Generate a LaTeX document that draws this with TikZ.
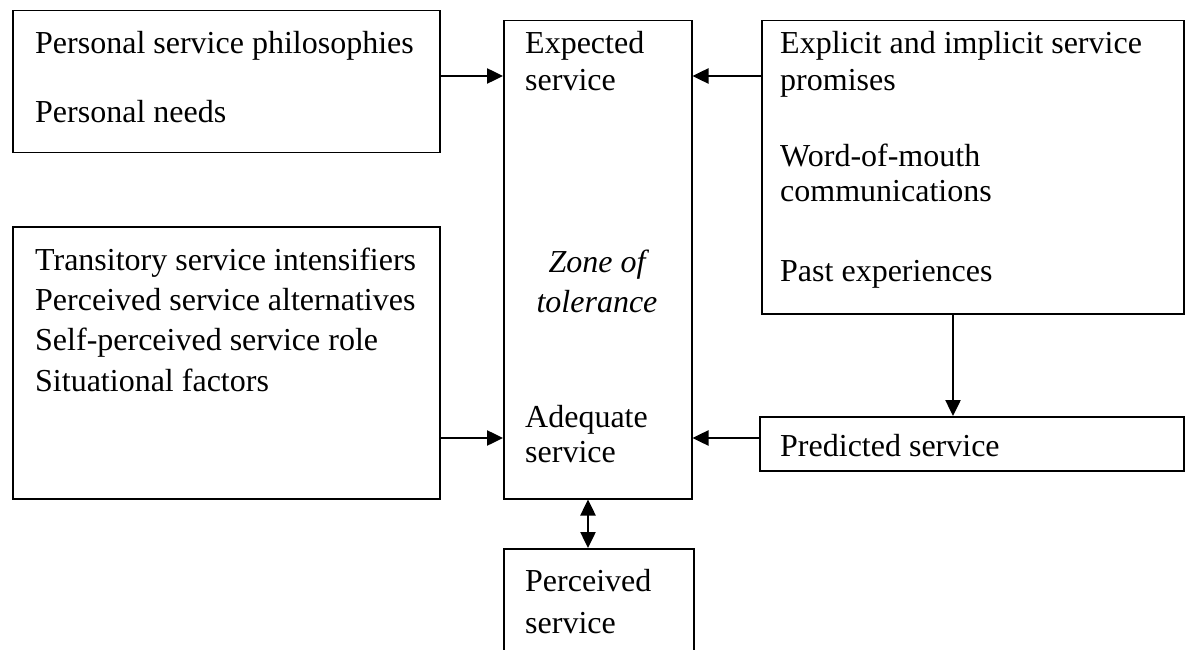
\documentclass[tikz,border=0pt]{standalone}
\usepackage{fontspec}
\setmainfont{Liberation Serif}
\usetikzlibrary{arrows.meta}
\begin{document}
\begin{tikzpicture}[x=1pt,y=-1pt,
  boxst/.style={draw=black, line width=1.5pt, rectangle, anchor=north west, inner sep=0pt},
  txt/.style={anchor=base west, inner sep=0pt, font=\fontsize{32}{38}\selectfont},
  itxt/.style={anchor=base, inner sep=0pt, font=\fontsize{32}{38}\selectfont\itshape},
  arr/.style={line width=2.5pt, -{Triangle[length=16pt,width=15pt]}},
  darr/.style={line width=2.5pt, {Triangle[length=16pt,width=15pt]}-{Triangle[length=16pt,width=15pt]}}]
\useasboundingbox (0,0) rectangle (1192,650);
\clip (0,0) rectangle (1192,650);
% boxes
\node[boxst, minimum width=427pt, minimum height=142pt] (A) at (12,10) {};
\node[boxst, minimum width=188pt, minimum height=478pt] (C) at (503,20) {};
\node[boxst, minimum width=422pt, minimum height=293pt] (R) at (761,20) {};
\node[boxst, minimum width=427pt, minimum height=272pt] (B) at (12,226) {};
\node[boxst, minimum width=424pt, minimum height=54pt] (P) at (759,416) {};
\node[boxst, minimum width=190pt, minimum height=140pt] (V) at (503,548) {};
% texts
\node[txt] (a1) at (35,54) {Personal service philosophies};
\node[txt] (a2) at (35,123) {Personal needs};
\node[txt] (c1) at (525,54) {Expected};
\node[txt] (c2) at (525,91) {service};
\node[itxt] (z1) at (597,272) {Zone of};
\node[itxt] (z2) at (597,312) {tolerance};
\node[txt] (c3) at (525,427) {Adequate};
\node[txt] (c4) at (525,462) {service};
\node[txt] (r1) at (780,54) {Explicit and implicit service};
\node[txt] (r2) at (780,91) {promises};
\node[txt] (r3) at (780,167) {Word-of-mouth};
\node[txt] (r4) at (780,201) {communications};
\node[txt] (r5) at (780,281) {Past experiences};
\node[txt] (b1) at (35,270) {Transitory service intensifiers};
\node[txt] (b2) at (35,310) {Perceived service alternatives};
\node[txt] (b3) at (35,350) {Self-perceived service role};
\node[txt] (b4) at (35,391) {Situational factors};
\node[txt] (p1) at (780,456) {Predicted service};
\node[txt] (v1) at (525,591) {Perceived};
\node[txt] (v2) at (525,633) {service};
% connectors
\coordinate (ya) at (0,76);
\coordinate (yb) at (0,438);
\coordinate (xd) at (953,0);
\coordinate (xe) at (588,0);
\draw[arr] (A.east |- ya) -- (C.west |- ya);
\draw[arr] (R.west |- ya) -- (C.east |- ya);
\draw[arr] (B.east |- yb) -- (C.west |- yb);
\draw[arr] (P.west |- yb) -- (C.east |- yb);
\draw[arr] (R.south -| xd) -- (P.north -| xd);
\draw[darr] (C.south -| xe) -- (V.north -| xe);
\end{tikzpicture}
\end{document}
